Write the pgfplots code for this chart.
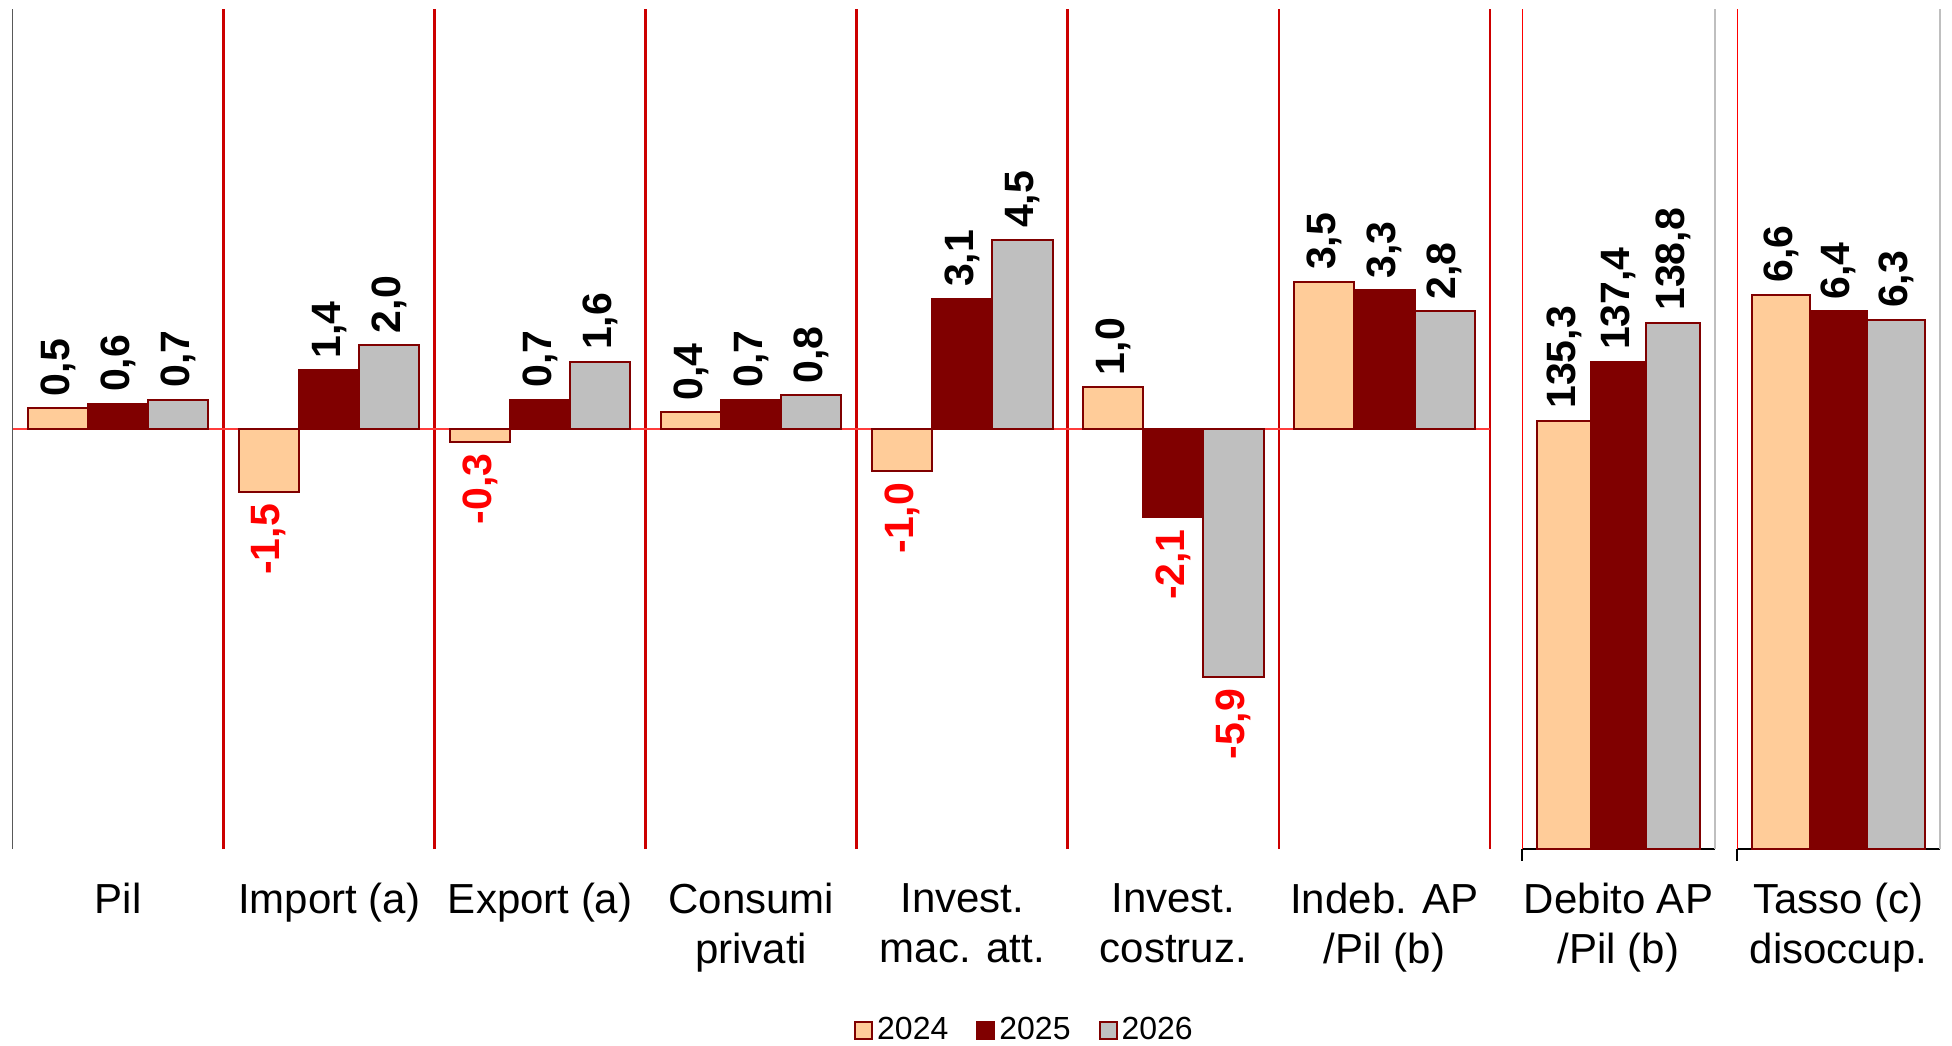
\documentclass[border=0pt]{standalone}
\usepackage{fontspec}
\setmainfont{Liberation Sans}
\usepackage{graphicx}
\usepackage{pgfplots}
\usepackage{pgfplotstable}
\pgfplotsset{compat=1.18}

\definecolor{c24}{RGB}{255,204,153}
\definecolor{c25}{RGB}{128,0,0}
\definecolor{c26}{RGB}{191,191,191}
\definecolor{edge}{RGB}{128,0,0}
\definecolor{sepred}{RGB}{204,0,0}
\definecolor{zerored}{RGB}{255,60,60}
\definecolor{negred}{RGB}{255,0,0}
\definecolor{rgray}{RGB}{191,191,191}

\newcommand\ticfont{\fontsize{21}{25}\selectfont}
\newcommand\labfont{\fontsize{20.5}{24}\selectfont\bfseries}
\newcommand\legfont{\fontsize{16}{19}\selectfont}

\pgfplotstableread{
x  a    b    c
0  0.5  0.6  0.7
1 -1.5  1.4  2.0
2 -0.3  0.7  1.6
3  0.4  0.7  0.8
4 -1.0  3.1  4.5
5  1.0 -2.1 -5.9
6  3.5  3.3  2.8
}\dataA
\pgfplotstableread{
x  a     b     c
0  135.3 137.4 138.8
}\dataB
\pgfplotstableread{
x  a   b   c
0  6.6 6.4 6.3
}\dataC

\pgfplotsset{
  panel/.style={
    scale only axis, height=420pt, anchor=south west,
    ybar, bar width=0.285,
    axis lines*=left,
    ytick=\empty,
    major tick length=0pt, minor tick length=0pt,
    xticklabel style={font=\ticfont, align=center, anchor=north, inner sep=0pt, yshift=-17pt},
    nodes near coords={\rotatebox{90}{\pgfmathfloatifflags{\pgfplotspointmeta}{2}{\color{negred}}{}\pgfmathprintnumber[fixed,fixed zerofill,precision=1,use comma,assume math mode=true]{\pgfplotspointmeta}}},
    nodes near coords style={font=\labfont, text=black, inner ysep=5.5pt, inner xsep=0pt},
  },
  yr/.style n args={2}{fill=#1, draw=edge, line width=1pt, bar shift=#2},
}

\begin{document}
\begin{tikzpicture}
\begin{axis}[panel, name=p1, at={(6.25pt,98pt)}, width=738.75pt,
  xmin=-0.5, xmax=6.5, ymin=-10, ymax=10, clip=false,
  xtick={0,...,6},
  xticklabels={Pil,Import (a),Export (a),{Consumi\\privati},{Invest.\\mac. att.},{Invest.\\costruz.},{Indeb. AP\\/Pil (b)}},
  minor xtick={0.5,1.5,...,6.5},
  xminorgrids, minor grid style={sepred, line width=1.4pt},
  x axis line style={draw=none},
  y axis line style={draw=black!65, line width=0.6pt},
]
\draw[zerored, line width=0.6pt] (axis cs:-0.5,0) -- (axis cs:6.5,0);
\addplot[yr={c24}{-0.285}] table[x=x,y=a]{\dataA};
\addplot[yr={c25}{0}] table[x=x,y=b]{\dataA};
\addplot[yr={c26}{0.285}] table[x=x,y=c]{\dataA};
\end{axis}

\begin{axis}[panel, name=p2, at={(761pt,98pt)}, width=96.5pt,
  xmin=-0.5, xmax=0.5, ymin=120, ymax=150, xtick={0},
  xticklabels={{Debito AP\\/Pil (b)}},
  x axis line style={draw=black, line width=0.6pt},
  y axis line style={draw=red, line width=0.5pt},
  bar width=0.283,
]
\addplot[yr={c24}{-0.283}] table[x=x,y=a]{\dataB};
\addplot[yr={c25}{0}] table[x=x,y=b]{\dataB};
\addplot[yr={c26}{0.283}] table[x=x,y=c]{\dataB};
\end{axis}
\draw[rgray, line width=1pt] (p2.south east) -- (p2.north east);
\draw[black, line width=0.6pt] (p2.south west) -- ++(0,-6pt);

\begin{axis}[panel, name=p3, at={(868.5pt,98pt)}, width=101.5pt,
  xmin=-0.5, xmax=0.5, ymin=0, ymax=10, xtick={0},
  xticklabels={{Tasso (c)\\disoccup.}},
  x axis line style={draw=black, line width=0.6pt},
  y axis line style={draw=red, line width=0.5pt},
  bar width=0.284,
  legend columns=3,
  legend style={draw=none, fill=none, font=\legfont, at={(-3.505,-0.2155)}, anchor=center, inner sep=0pt,
     /tikz/every even column/.append style={column sep=12pt},
     nodes={inner xsep=2pt}},
  legend cell align=left,
  legend image code/.code={\draw[#1] (0pt,-4.25pt) rectangle (8.5pt,4.25pt);},
]
\addplot[yr={c24}{-0.284}] table[x=x,y=a]{\dataC};
\addlegendentry{2024}
\addplot[yr={c25}{0}] table[x=x,y=b]{\dataC};
\addlegendentry{2025}
\addplot[yr={c26}{0.284}] table[x=x,y=c]{\dataC};
\addlegendentry{2026}
\end{axis}
\draw[rgray, line width=1pt] (p3.south east) -- (p3.north east);
\draw[black, line width=0.6pt] (p3.south west) -- ++(0,-6pt);

\pgfresetboundingbox
\useasboundingbox (0,0) rectangle (976pt,522.5pt);
\end{tikzpicture}
\end{document}
